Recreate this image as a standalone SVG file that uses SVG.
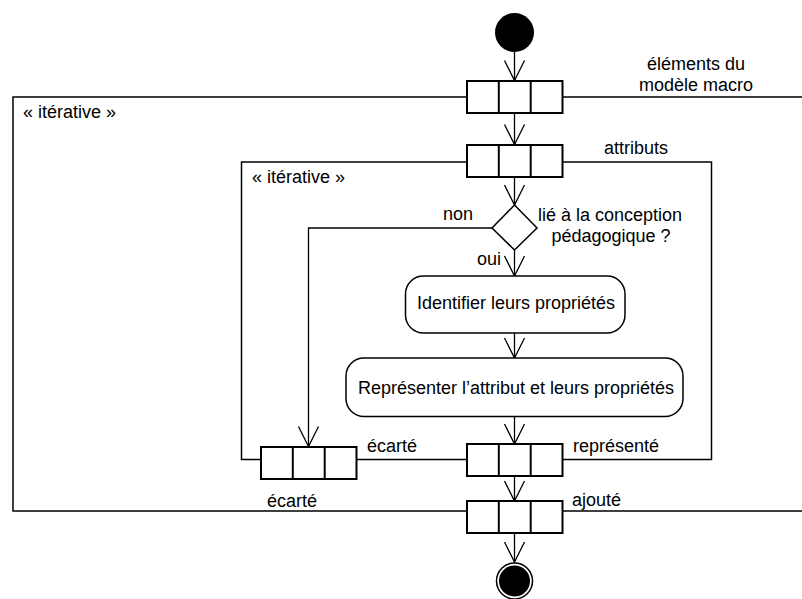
<svg xmlns="http://www.w3.org/2000/svg" xmlns:xlink="http://www.w3.org/1999/xlink" width="802" height="599" viewBox="0 0 802 599">
  <style>
    text { font-family: "Liberation Sans", Arial, sans-serif; font-size: 18px; fill: #000; }
    .frame { fill: none; stroke: #000; stroke-width: 1.5; }
    .flow { fill: none; stroke: #000; stroke-width: 1.3; }
    .pin { fill: #fff; stroke: #000; stroke-width: 2; }
    .action { fill: #fff; stroke: #000; stroke-width: 1.5; }
    .mid { text-anchor: middle; }
  </style>
  <defs>
    <marker id="open" markerUnits="userSpaceOnUse" markerWidth="24" markerHeight="24" viewBox="-22 -12 24 24" refX="0" refY="0" orient="auto">
      <path d="M -20 -10 L 0 0 L -20 10" fill="none" stroke="#000" stroke-width="1.3"/>
    </marker>
    <!-- three-cell object pin, 95.5 x 32 -->
    <g id="pinShape">
      <rect class="pin" x="0" y="0" width="95.5" height="32"/>
      <line class="pin" x1="31.8" y1="0" x2="31.8" y2="32"/>
      <line class="pin" x1="63.7" y1="0" x2="63.7" y2="32"/>
    </g>
  </defs>

  <!-- iteration regions -->
  <g id="outerRegion">
    <path class="frame" d="M 802 97 H 13 V 511 H 802"/>
    <text x="23" y="118">« itérative »</text>
  </g>
  <g id="innerRegion">
    <rect class="frame" x="241.5" y="162" width="470" height="297.5"/>
    <text x="252" y="183">« itérative »</text>
  </g>

  <!-- connectors -->
  <g id="connectors">
    <line class="flow" x1="514.5" y1="52" x2="514.5" y2="80.5" marker-end="url(#open)"/>
    <line class="flow" x1="514.5" y1="113" x2="514.5" y2="144.5" marker-end="url(#open)"/>
    <line class="flow" x1="514.5" y1="177" x2="514.5" y2="205" marker-end="url(#open)"/>
    <line class="flow" x1="514.5" y1="250" x2="514.5" y2="276" marker-end="url(#open)"/>
    <line class="flow" x1="514.5" y1="333" x2="514.5" y2="358" marker-end="url(#open)"/>
    <line class="flow" x1="514.5" y1="416.5" x2="514.5" y2="444" marker-end="url(#open)"/>
    <line class="flow" x1="514.5" y1="476" x2="514.5" y2="501" marker-end="url(#open)"/>
    <line class="flow" x1="514.5" y1="533" x2="514.5" y2="562" marker-end="url(#open)"/>
    <path class="flow" d="M 492 228 H 308.5 V 446.5" marker-end="url(#open)"/>
  </g>

  <!-- start -->
  <g id="start">
    <circle cx="514.5" cy="32.5" r="19.5" fill="#000"/>
  </g>

  <!-- input pin: elements of the macro model -->
  <g id="pinElements">
    <use xlink:href="#pinShape" x="467" y="81"/>
    <text class="mid" x="696" y="70">éléments du</text>
    <text class="mid" x="696" y="91">modèle macro</text>
  </g>

  <!-- input pin: attributes -->
  <g id="pinAttributs">
    <use xlink:href="#pinShape" x="467" y="145"/>
    <text x="604" y="154">attributs</text>
  </g>

  <!-- decision -->
  <g id="decision">
    <polygon points="514.5,205 537,228 514.5,250 492,228" fill="#fff" stroke="#000" stroke-width="1.5"/>
    <text class="mid" x="610" y="221">lié à la conception</text>
    <text class="mid" x="611" y="242">pédagogique ?</text>
    <text x="443" y="220">non</text>
    <text x="477" y="265">oui</text>
  </g>

  <!-- actions -->
  <g id="actionIdentifier">
    <rect class="action" x="405.5" y="276" width="219.5" height="57" rx="18" ry="18"/>
    <text class="mid" x="516" y="308.5">Identifier leurs propriétés</text>
  </g>
  <g id="actionRepresenter">
    <rect class="action" x="346" y="358" width="337" height="58.5" rx="18" ry="18"/>
    <text class="mid" x="516" y="393.5">Représenter l’attribut et leurs propriétés</text>
  </g>

  <!-- output pins of the inner region -->
  <g id="pinEcarteInner">
    <use xlink:href="#pinShape" x="261" y="447"/>
    <text x="367" y="452">écarté</text>
  </g>
  <g id="pinRepresente">
    <use xlink:href="#pinShape" x="467" y="444"/>
    <text x="573" y="452">représenté</text>
  </g>

  <!-- output pin of the outer region -->
  <g id="pinAjoute">
    <use xlink:href="#pinShape" x="467" y="501"/>
    <text x="572" y="506">ajouté</text>
    <text x="267" y="507">écarté</text>
  </g>

  <!-- end -->
  <g id="end">
    <circle cx="514.5" cy="581" r="18" fill="#fff" stroke="#000" stroke-width="1.5"/>
    <circle cx="514.5" cy="581" r="15.5" fill="#000"/>
  </g>
</svg>
